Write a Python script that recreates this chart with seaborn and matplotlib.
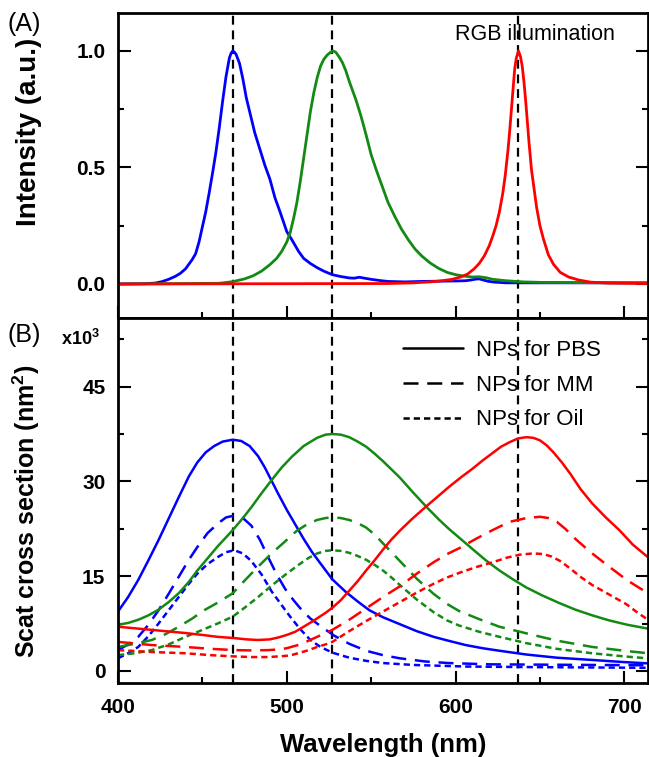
import numpy as np
import pandas as pd
import matplotlib
matplotlib.use("Agg")
import matplotlib.pyplot as plt
import seaborn as sns
from matplotlib.lines import Line2D
from matplotlib.ticker import MultipleLocator

# (A) normalized RGB illumination spectra
wl_led_b = [400, 415, 422, 426, 430, 434, 437, 440, 442, 444, 446, 448, 450, 452, 454, 456, 458, 460,
            462, 464, 466, 467, 468, 469, 470, 472, 474, 476, 478, 481, 484, 487, 490, 493, 496, 500,
            503, 507, 510, 514, 518, 522, 527, 532, 537, 540, 543, 546, 550, 555, 560, 570, 580, 590,
            600, 606, 609, 612, 614, 616, 619, 623, 630, 650, 714]
int_led_b = [0, 0.001, 0.004, 0.01, 0.02, 0.033, 0.046, 0.065, 0.085, 0.105, 0.13, 0.18, 0.245, 0.31,
             0.39, 0.475, 0.565, 0.67, 0.785, 0.89, 0.97, 0.99, 1.0, 0.995, 0.985, 0.947, 0.88, 0.80,
             0.74, 0.65, 0.58, 0.51, 0.45, 0.37, 0.31, 0.225, 0.19, 0.14, 0.11, 0.088, 0.07, 0.055,
             0.04, 0.032, 0.026, 0.025, 0.029, 0.025, 0.02, 0.015, 0.011, 0.009, 0.011, 0.012, 0.013,
             0.014, 0.017, 0.021, 0.022, 0.018, 0.012, 0.008, 0.005, 0.005, 0.005]
wl_led_g = [400, 460, 468, 475, 480, 485, 490, 494, 497, 500, 502, 504, 506, 508, 510, 512, 514, 516,
            518, 520, 522, 524, 526, 527.5, 529, 531, 533, 535, 537, 539, 541, 544, 547, 550, 553, 556,
            560, 564, 568, 572, 576, 580, 585, 590, 595, 600, 605, 610, 614, 618, 622, 630, 640, 650, 714]
int_led_g = [0, 0.003, 0.01, 0.022, 0.035, 0.055, 0.083, 0.11, 0.14, 0.18, 0.22, 0.28, 0.35, 0.44, 0.54,
             0.64, 0.74, 0.82, 0.885, 0.935, 0.965, 0.983, 0.995, 1.0, 0.995, 0.975, 0.95, 0.915, 0.87,
             0.83, 0.79, 0.72, 0.64, 0.555, 0.49, 0.43, 0.35, 0.29, 0.235, 0.19, 0.15, 0.12, 0.09, 0.067,
             0.05, 0.04, 0.034, 0.03, 0.031, 0.027, 0.02, 0.014, 0.009, 0.007, 0.004]
wl_led_r = [400, 560, 575, 585, 592, 598, 603, 607, 611, 614, 617, 620, 622, 624, 626, 628, 629.5, 631,
            632, 633, 634, 635, 636, 637.3, 638.5, 639.5, 640.5, 641.5, 642.5, 643.5, 645, 646.5, 648,
            650, 652, 655, 658, 662, 667, 673, 680, 690, 714]
int_led_r = [0, 0.002, 0.005, 0.009, 0.014, 0.02, 0.03, 0.042, 0.065, 0.088, 0.12, 0.165, 0.205, 0.25,
             0.31, 0.39, 0.47, 0.57, 0.65, 0.74, 0.83, 0.92, 0.97, 1.0, 0.975, 0.935, 0.87, 0.79, 0.70,
             0.61, 0.49, 0.41, 0.33, 0.25, 0.195, 0.125, 0.085, 0.05, 0.03, 0.017, 0.008, 0.004, 0.002]

# (B) scattering cross section, x10^3 nm^2
wl_b_pbs = [400, 406, 412, 418, 424, 430, 436, 442, 447, 452, 457, 462, 468, 473, 478, 483, 487, 491,
            495, 500, 505, 510, 515, 520, 527, 535, 542, 549, 557, 567, 577, 587, 597, 606, 616, 626,
            642, 660, 681, 700, 714]
cs_b_pbs = [9.4, 11.7, 14.4, 17.5, 20.7, 24.1, 27.5, 30.8, 33.0, 34.6, 35.6, 36.3, 36.6, 36.4, 35.6,
            34.0, 32.2, 30.1, 28.0, 25.5, 23.2, 20.9, 18.8, 17.0, 14.5, 12.5, 11.0, 9.6, 8.5, 7.4, 6.3,
            5.4, 4.7, 4.1, 3.6, 3.2, 2.6, 2.1, 1.74, 1.4, 1.2]
wl_b_mm = [400, 406, 412, 418, 424, 430, 436, 442, 447, 453, 459, 464, 469, 474, 479, 484, 489, 494,
           499, 504, 509, 514, 520, 528, 537, 547, 557, 567, 582, 596, 620, 650, 714]
cs_b_mm = [3.3, 4.2, 5.4, 7.3, 9.6, 12.2, 14.9, 17.6, 19.6, 21.8, 23.3, 24.3, 24.6, 24.2, 23.0, 20.8,
           18.0, 15.3, 13.0, 11.2, 9.6, 8.3, 7.1, 5.6, 4.3, 3.2, 2.5, 2.0, 1.5, 1.25, 1.05, 1.0, 0.9]
wl_b_oil = [400, 406, 412, 418, 424, 430, 436, 442, 447, 453, 459, 464, 469, 474, 479, 485, 491, 497,
            502, 508, 514, 520, 527, 537, 547, 557, 575, 606, 650, 714]
cs_b_oil = [2.0, 2.8, 3.8, 5.5, 7.5, 9.6, 11.7, 13.8, 15.4, 16.9, 18.0, 18.8, 19.1, 18.6, 17.4, 15.3,
            12.6, 10.4, 8.6, 6.6, 4.9, 3.8, 2.9, 2.1, 1.6, 1.25, 0.95, 0.7, 0.6, 0.5]

wl_g_pbs = [400, 406, 412, 418, 424, 430, 436, 442, 447, 453, 459, 468, 474, 479, 485, 491, 497, 503,
            510, 518, 523, 527, 532, 537, 542, 547, 552, 557, 562, 567, 575, 583, 590, 596, 603, 610,
            618, 626, 634, 642, 651, 661, 671, 681, 691, 702, 714]
cs_g_pbs = [7.3, 7.6, 8.1, 8.8, 9.7, 10.9, 12.3, 14.1, 15.9, 17.8, 19.7, 22.3, 24.2, 25.9, 28.1, 30.2,
            32.2, 33.9, 35.6, 36.9, 37.4, 37.5, 37.4, 37.0, 36.3, 35.5, 34.4, 33.2, 31.9, 30.6, 28.2,
            25.9, 24.0, 22.5, 20.9, 19.3, 17.5, 15.9, 14.5, 13.2, 12.0, 10.8, 9.7, 8.8, 8.0, 7.3, 6.7]
wl_g_mm = [400, 410, 420, 428, 436, 444, 451, 459, 468, 475, 483, 491, 499, 506, 512, 518, 523, 527,
           532, 537, 542, 547, 552, 557, 562, 567, 577, 587, 595, 602, 614, 626, 642, 660, 681, 700, 714]
cs_g_mm = [3.8, 4.3, 4.9, 5.8, 7.0, 8.3, 9.6, 10.8, 12.3, 14.3, 16.5, 18.6, 20.5, 22.2, 23.2, 23.9,
           24.2, 24.3, 24.2, 23.9, 23.4, 22.7, 21.6, 20.2, 18.8, 17.4, 14.6, 12.2, 10.6, 9.5, 8.2, 7.0,
           5.95, 4.8, 3.8, 3.2, 2.8]
wl_g_oil = [400, 410, 420, 430, 440, 450, 459, 468, 475, 483, 491, 499, 507, 513, 518, 523, 527, 532,
            537, 542, 547, 552, 557, 562, 567, 577, 587, 595, 602, 614, 626, 642, 660, 681, 700, 714]
cs_g_oil = [2.5, 2.8, 3.3, 4.2, 5.4, 6.5, 7.5, 8.6, 10.0, 11.7, 13.5, 15.2, 16.8, 17.9, 18.6, 19.0,
            19.1, 19.0, 18.7, 18.2, 17.6, 16.8, 15.9, 14.8, 13.6, 11.3, 9.3, 8.0, 7.2, 6.2, 5.4, 4.4,
            3.5, 2.8, 2.3, 2.0]

wl_r_pbs = [400, 410, 420, 430, 440, 450, 459, 469, 476, 483, 490, 495, 500, 505, 510, 515, 519, 523,
            527, 532, 537, 542, 547, 552, 557, 562, 567, 574, 582, 589, 596, 603, 610, 616, 622, 627,
            632, 637, 642, 646, 650, 654, 658, 663, 668, 674, 681, 689, 697, 705, 714]
cs_r_pbs = [7.0, 6.75, 6.5, 6.25, 6.0, 5.7, 5.4, 5.2, 5.0, 4.9, 5.0, 5.3, 5.7, 6.2, 7.0, 7.8, 8.5, 9.2,
            10.0, 11.2, 12.7, 14.2, 15.9, 17.5, 19.2, 20.8, 22.2, 24.0, 25.9, 27.5, 29.1, 30.6, 32.0,
            33.3, 34.5, 35.5, 36.2, 36.8, 37.0, 36.9, 36.5, 35.7, 34.6, 33.0, 31.2, 28.8, 26.5, 24.3,
            22.3, 20.0, 18.0]
wl_r_mm = [400, 410, 420, 430, 440, 455, 469, 479, 489, 495, 500, 504, 508, 513, 518, 523, 527, 537,
           547, 557, 567, 577, 587, 595, 602, 612, 622, 632, 642, 650, 655, 660, 665, 671, 680, 691, 702,
           714]
cs_r_mm = [4.6, 4.35, 4.1, 3.95, 3.8, 3.5, 3.3, 3.25, 3.3, 3.4, 3.6, 3.9, 4.2, 4.8, 5.4, 6.0, 6.5, 8.1,
           9.9, 11.7, 13.4, 15.4, 17.2, 18.5, 19.4, 20.9, 22.3, 23.6, 24.2, 24.4, 24.2, 23.6, 22.5,
           20.9, 18.8, 16.5, 14.3, 12.3]
wl_r_oil = [400, 410, 420, 430, 440, 455, 469, 479, 489, 495, 500, 504, 508, 513, 518, 523, 527, 537,
            547, 557, 567, 577, 587, 595, 604, 613, 622, 630, 638, 646, 652, 657, 662, 668, 674, 681, 691,
            701, 708, 714]
cs_r_oil = [3.3, 3.15, 3.0, 2.9, 2.8, 2.5, 2.3, 2.2, 2.2, 2.3, 2.4, 2.6, 2.9, 3.3, 3.8, 4.2, 4.6, 6.3,
            7.9, 9.4, 10.9, 12.4, 13.8, 14.8, 15.7, 16.5, 17.2, 17.9, 18.4, 18.6, 18.5, 18.1, 17.4, 16.2,
            14.9, 13.6, 12.1, 10.6, 9.2, 8.1]

led_peaks = [468, 527, 637]
media = ["NPs for PBS", "NPs for MM", "NPs for Oil"]

colors = {"B": "#0000ff", "G": "#138a13", "R": "#ff0000"}

# long tables for seaborn
led = pd.concat([
    pd.DataFrame({"wl": wl_led_b, "I": int_led_b, "led": "B"}),
    pd.DataFrame({"wl": wl_led_g, "I": int_led_g, "led": "G"}),
    pd.DataFrame({"wl": wl_led_r, "I": int_led_r, "led": "R"}),
])
scat_parts = [
    ("B", media[0], wl_b_pbs, cs_b_pbs), ("B", media[1], wl_b_mm, cs_b_mm), ("B", media[2], wl_b_oil, cs_b_oil),
    ("G", media[0], wl_g_pbs, cs_g_pbs), ("G", media[1], wl_g_mm, cs_g_mm), ("G", media[2], wl_g_oil, cs_g_oil),
    ("R", media[0], wl_r_pbs, cs_r_pbs), ("R", media[1], wl_r_mm, cs_r_mm), ("R", media[2], wl_r_oil, cs_r_oil),
]
scat = pd.concat([pd.DataFrame({"wl": w, "cs": c, "np": col, "medium": m}) for col, m, w, c in scat_parts])

sns.set_style("ticks")
plt.rcParams['font.family'] = ['Liberation Sans', 'DejaVu Sans']
plt.rcParams['mathtext.fontset'] = 'custom'
plt.rcParams['mathtext.rm'] = 'Liberation Sans'
plt.rcParams['mathtext.bf'] = 'Liberation Sans:bold'
plt.rcParams['text.color'] = 'black'
plt.rcParams['axes.labelcolor'] = 'black'
plt.rcParams['lines.solid_capstyle'] = 'round'

fig = plt.figure(figsize=(6.49, 7.57), dpi=100)
ax1 = fig.add_axes([0.1818, 0.5799, 0.8166, 0.4029])
ax2 = fig.add_axes([0.1818, 0.0978, 0.8166, 0.4822])

sns.lineplot(data=led, x="wl", y="I", hue="led", palette=colors, estimator=None,
             lw=2, legend=False, ax=ax1)
dash_map = {media[0]: "", media[1]: (6, 3.5), media[2]: (2.5, 1.6)}
sns.lineplot(data=scat, x="wl", y="cs", hue="np", style="medium", palette=colors,
             dashes=dash_map, estimator=None, lw=1.8, legend=False, ax=ax2)

for ax in (ax1, ax2):
    for p in led_peaks:
        ax.axvline(p, color="black", lw=1.6, dashes=(4, 2.6), zorder=0)
    ax.set_xlim(400, 714)
    ax.xaxis.set_major_locator(MultipleLocator(100))
    ax.xaxis.set_minor_locator(MultipleLocator(50))
    for s in ax.spines.values():
        s.set_linewidth(2)
        s.set_color("black")
    ax.tick_params(which="both", direction="in", right=True, top=False, width=1.5,
                   colors="black", labelsize=15, pad=9)
    ax.tick_params(which="major", length=9)
    ax.tick_params(which="minor", length=4.5)

# top panel
ax1.set_ylim(-0.146, 1.163)
ax1.yaxis.set_minor_locator(MultipleLocator(0.25))
ax1.set_yticks([0, 0.5, 1.0])
ax1.set_yticklabels(["0.0", "0.5", "1.0"], fontweight="bold", fontsize=15)
ax1.tick_params(labelbottom=False)
ax1.set_xlabel("")
ax1.set_ylabel("Intensity (a.u.)", fontsize=20, fontweight="bold")
ax1.yaxis.set_label_coords(-0.143, 0.61)
ax1.text(0.787, 0.928, "RGB illumination", transform=ax1.transAxes, ha="center", va="center",
         fontsize=15.5)

# bottom panel
ax2.set_ylim(-1.9, 55.87)
ax2.yaxis.set_minor_locator(MultipleLocator(7.5))
ax2.set_yticks([0, 15, 30, 45])
ax2.set_yticklabels(["0", "15", "30", "45"], fontweight="bold", fontsize=15)
ax2.set_xticks([400, 500, 600, 700])
ax2.set_xticklabels(["400", "500", "600", "700"], fontweight="bold", fontsize=15)
ax2.tick_params(axis="x", pad=11)
ax2.set_xlabel("Wavelength (nm)", fontsize=18.5, fontweight="bold")
ax2.xaxis.set_label_coords(0.501, -0.137)
ax2.set_ylabel("Scat cross section (nm$\\mathbf{^2}$)", fontsize=18, fontweight="bold")
ax2.yaxis.set_label_coords(-0.143, 0.471)
ax2.text(-0.034, 52.5, "$\\mathbf{x10^3}$", transform=ax2.get_yaxis_transform(),
         ha="right", va="center", fontsize=13)

handles = [Line2D([], [], color="black", lw=1.8, ls="-"),
           Line2D([], [], color="black", lw=1.8, dashes=dash_map[media[1]]),
           Line2D([], [], color="black", lw=1.8, dashes=dash_map[media[2]])]
ax2.legend(handles, media, loc="upper left", bbox_to_anchor=(0.538, 0.94), frameon=False,
           fontsize=16, handlelength=2.7, handletextpad=0.6, labelspacing=0.62,
           borderaxespad=0, borderpad=0)

fig.text(0.0123, 0.968, "(A)", fontsize=18, va="center", ha="left")
fig.text(0.0123, 0.5575, "(B)", fontsize=18, va="center", ha="left")

fig.savefig("out.png", dpi=100)
